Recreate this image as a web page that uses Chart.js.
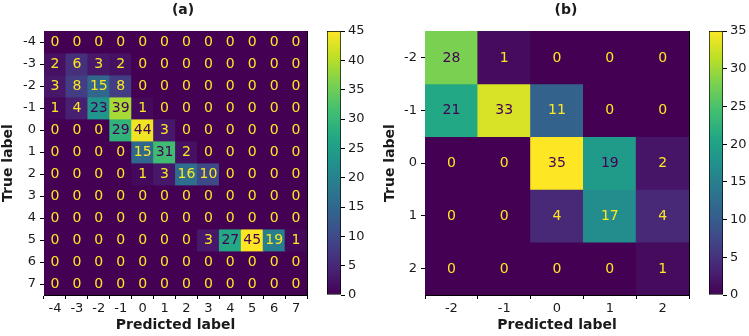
<!DOCTYPE html>
<html>
<head>
<meta charset="utf-8">
<script src="https://cdn.jsdelivr.net/npm/chart.js@4.4.1/dist/chart.umd.min.js"></script>
<style>
  body { margin: 0; background: #fff; }
  #wrap { position: relative; width: 749px; height: 336px; }
  canvas { position: absolute; top: 0; }
</style>
</head>
<body>
<div id="wrap">
  <canvas id="matA" style="left:0px" width="366" height="336"></canvas>
  <canvas id="barA" style="left:320px" width="60" height="336"></canvas>
  <canvas id="matB" style="left:383px" width="366" height="336"></canvas>
  <canvas id="barB" style="left:700px" width="49" height="336"></canvas>
</div>
<script>
// panel (a) labels and counts (rows = true label, cols = predicted label)
const labelsA = [-4, -3, -2, -1, 0, 1, 2, 3, 4, 5, 6, 7];
const countsA = [
  [0, 0, 0, 0, 0, 0, 0, 0, 0, 0, 0, 0],
  [2, 6, 3, 2, 0, 0, 0, 0, 0, 0, 0, 0],
  [3, 8, 15, 8, 0, 0, 0, 0, 0, 0, 0, 0],
  [1, 4, 23, 39, 1, 0, 0, 0, 0, 0, 0, 0],
  [0, 0, 0, 29, 44, 3, 0, 0, 0, 0, 0, 0],
  [0, 0, 0, 0, 15, 31, 2, 0, 0, 0, 0, 0],
  [0, 0, 0, 0, 1, 3, 16, 10, 0, 0, 0, 0],
  [0, 0, 0, 0, 0, 0, 0, 0, 0, 0, 0, 0],
  [0, 0, 0, 0, 0, 0, 0, 0, 0, 0, 0, 0],
  [0, 0, 0, 0, 0, 0, 0, 3, 27, 45, 19, 1],
  [0, 0, 0, 0, 0, 0, 0, 0, 0, 0, 0, 0],
  [0, 0, 0, 0, 0, 0, 0, 0, 0, 0, 0, 0]
];
const colorTicksA = [0, 5, 10, 15, 20, 25, 30, 35, 40, 45];

// panel (b)
const labelsB = [-2, -1, 0, 1, 2];
const countsB = [
  [28, 1, 0, 0, 0],
  [21, 33, 11, 0, 0],
  [0, 0, 35, 19, 2],
  [0, 0, 4, 17, 4],
  [0, 0, 0, 0, 1]
];
const colorTicksB = [0, 5, 10, 15, 20, 25, 30, 35];

const FONT = "'DejaVu Sans', sans-serif";
const INK = "#1a1a1a";

// viridis stops
const viridis = ["#440154", "#482475", "#414487", "#355f8d", "#2a788e", "#21918c",
  "#22a884", "#44bf70", "#7ad151", "#bddf26", "#fde725"];
function hexRgb(h) {
  return [1, 3, 5].map(i => parseInt(h.slice(i, i + 2), 16));
}
function cmap(t) {
  t = Math.max(0, Math.min(1, t));
  const p = t * (viridis.length - 1);
  const i = Math.min(Math.floor(p), viridis.length - 2);
  const f = p - i;
  const a = hexRgb(viridis[i]), b = hexRgb(viridis[i + 1]);
  const c = a.map((v, k) => Math.round(v + (b[k] - v) * f));
  return `rgb(${c[0]},${c[1]},${c[2]})`;
}

Chart.defaults.font.family = FONT;
Chart.defaults.color = INK;
Chart.defaults.animation = false;

// writes the count in the middle of each cell
const cellText = {
  id: "cellText",
  afterDatasetsDraw(chart, args, opts) {
    const ctx = chart.ctx;
    ctx.save();
    ctx.font = `${opts.size}px ${FONT}`;
    ctx.textAlign = "center";
    ctx.textBaseline = "middle";
    chart.data.datasets.forEach((ds, di) => {
      chart.getDatasetMeta(di).data.forEach((el, i) => {
        const v = ds.counts[i];
        const p = el.getCenterPoint();
        ctx.fillStyle = v < opts.max / 2 ? viridis[10] : viridis[0];
        ctx.fillText(String(v), p.x, p.y + 0.5);
      });
    });
    ctx.restore();
  }
};

function matrixChart(id, labels, counts, max, opt) {
  const datasets = counts.map((row, r) => ({
    counts: row,
    data: row.map(() => [labels[r] - 0.5, labels[r] + 0.5]),
    backgroundColor: row.map(v => cmap(v / max)),
    borderWidth: 0,
    inflateAmount: 0.4,
    grouped: false,
    barPercentage: 1,
    categoryPercentage: 1
  }));
  const tickGrid = { drawOnChartArea: false, drawTicks: true, tickLength: 4, color: "#000" };
  new Chart(document.getElementById(id), {
    type: "bar",
    data: { labels: labels.map(String), datasets },
    plugins: [cellText],
    options: {
      responsive: false,
      layout: { padding: 0 },
      plugins: {
        legend: { display: false },
        tooltip: { enabled: false },
        title: {
          display: true,
          text: opt.title,
          font: { size: 14, weight: "bold" },
          color: INK,
          padding: { top: 2.3, bottom: 11.9 }
        },
        cellText: { max, size: opt.cellSize }
      },
      scales: {
        x: {
          grid: tickGrid,
          border: { display: true, color: "#000", width: 1 },
          ticks: { font: { size: 13 }, padding: 2, maxRotation: 0, autoSkip: false },
          title: { display: true, text: "Predicted label", font: { size: 14, weight: "bold" }, padding: { top: 0, bottom: 2.6 } },
          afterFit: s => { s.height = 41; }
        },
        x2: {
          position: "top",
          grid: { display: false },
          ticks: { display: false },
          border: { display: true, color: "#000", width: 1 },
          afterFit: s => { s.height = 0; }
        },
        y: {
          reverse: true,
          min: labels[0] - 0.5,
          max: labels[labels.length - 1] + 0.5,
          grid: tickGrid,
          border: { display: true, color: "#000", width: 1 },
          ticks: { font: { size: 13 }, padding: 4 },
          afterBuildTicks: s => { s.ticks = labels.map(v => ({ value: v })); },
          title: { display: true, text: "True label", font: { size: 14, weight: "bold" }, padding: { top: opt.yTitlePad, bottom: 0 } },
          afterFit: s => { s.width = opt.yWidth; }
        },
        y2: {
          position: "right",
          grid: { display: false },
          ticks: { display: false },
          border: { display: true, color: "#000", width: 1 },
          afterFit: s => { s.width = opt.rightGap; }
        }
      }
    }
  });
}

function colorbarChart(id, max, ticks, padLeft, axisWidth) {
  new Chart(document.getElementById(id), {
    type: "bar",
    data: {
      labels: [""],
      datasets: [{
        data: [[0, max]],
        backgroundColor: (c) => {
          const area = c.chart.chartArea;
          if (!area) return viridis[0];
          const g = c.chart.ctx.createLinearGradient(0, area.bottom, 0, area.top);
          viridis.forEach((col, i) => g.addColorStop(i / (viridis.length - 1), col));
          return g;
        },
        borderColor: "#000",
        borderWidth: 1,
        borderSkipped: false,
        barPercentage: 1,
        categoryPercentage: 1
      }]
    },
    options: {
      responsive: false,
      layout: { padding: { left: padLeft, top: 31, bottom: 41, right: 0 } },
      plugins: { legend: { display: false }, tooltip: { enabled: false } },
      scales: {
        x: { display: false },
        y: {
          position: "right",
          min: 0,
          max: max,
          grid: { drawOnChartArea: false, drawTicks: true, tickLength: 4, color: "#000" },
          border: { display: false },
          ticks: { font: { size: 13 }, padding: 3 },
          afterBuildTicks: s => { s.ticks = ticks.map(v => ({ value: v })); },
          afterFit: s => { s.width = axisWidth; }
        }
      }
    }
  });
}

matrixChart("matA", labelsA, countsA, 45, { title: "(a)", yWidth: 44, rightGap: 59, yTitlePad: 0, cellSize: 14 });
colorbarChart("barA", 45, colorTicksA, 7, 39);
matrixChart("matB", labelsB, countsB, 35, { title: "(b)", yWidth: 42, rightGap: 60, yTitlePad: -1, cellSize: 14 });
colorbarChart("barB", 35, colorTicksB, 9, 26);
</script>
</body>
</html>
